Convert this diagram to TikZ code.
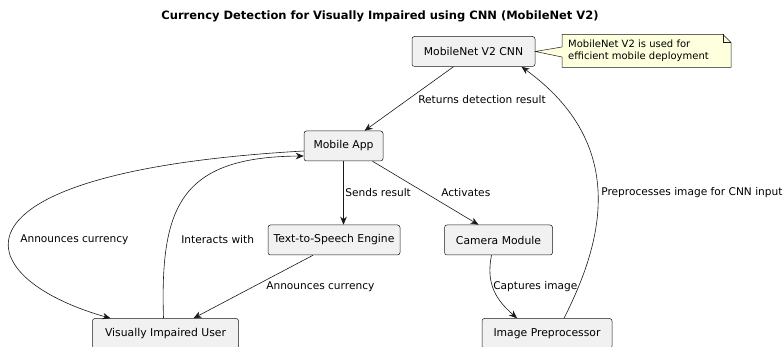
\documentclass[tikz,border=0pt]{standalone}
\usepackage{fontspec}
\setmainfont{DejaVu Sans}
\usetikzlibrary{arrows.meta}
\definecolor{boxfill}{HTML}{F1F1F1}
\definecolor{linec}{HTML}{181818}
\definecolor{notefill}{HTML}{FEFFDD}
\begin{document}
\begin{tikzpicture}[x=1pt,y=1pt,
  box/.style={draw=linec, fill=boxfill, rounded corners=2.5pt, line width=0.5pt, minimum height=30pt, inner sep=0pt, font=\fontsize{10.8}{12}\selectfont},
  conn/.style={draw=linec, line width=0.6pt, -{Stealth[length=8pt,width=6.5pt,inset=2.5pt]}},
  lbl/.style={anchor=west, inner sep=0pt, font=\fontsize{10.6}{12}\selectfont, text=black},
  notetext/.style={anchor=west, inner sep=0pt, align=left, font=\fontsize{10}{12}\selectfont}]
\useasboundingbox (0,0) rectangle (784,347);
\clip (0,0) rectangle (784,347);
\node[font=\bfseries\fontsize{11.5}{13}\selectfont] (title) at (380,331) {Currency Detection for Visually Impaired using CNN (MobileNet V2)};
\node[box, minimum width=123pt] (cnn) at (473.5,295.5) {MobileNet V2 CNN};
\node[box, minimum width=79pt] (app) at (343.5,201) {Mobile App};
\node[box, minimum width=132pt] (tts) at (334,107) {Text-to-Speech Engine};
\node[box, minimum width=108pt] (cam) at (498.5,107) {Camera Module};
\node[box, minimum width=146pt] (user) at (165.5,13.5) {Visually Impaired User};
\node[box, minimum width=130pt] (pre) at (547,13.5) {Image Preprocessor};
% note
\draw[draw=linec, fill=notefill, line width=0.5pt] (562,312.5) -- (723,312.5) -- (731,304.5) -- (731,279.5) -- (562,279.5) -- (562,290) -- (cnn.east) -- (562,300) -- cycle;
\draw[linec, line width=0.5pt] (723,312.5) -- (723,304.5) -- (731,304.5);
\node[notetext] (note) at (568,296) {MobileNet V2 is used for\\efficient mobile deployment};
% connectors
\draw[conn] ([xshift=-20pt]cnn.south) -- ([xshift=21pt]app.north) node[lbl, at={(418,247)}] {Returns detection result};
\draw[conn] (app.south) -- (app.south |- tts.north) node[lbl, at={(345,154)}] {Sends result};
\draw[conn] ([xshift=29pt]app.south) -- ([xshift=-20pt]cam.north) node[lbl, at={(441,154)}] {Activates};
\draw[conn] ([xshift=-7pt]cam.south) .. controls (485.5,62) and (497,46.5) .. ([xshift=-30pt]pre.north) node[lbl, at={(493,60)}] {Captures image};
\draw[conn] ([xshift=17pt]pre.north) .. controls (600,100) and (632,200) .. ([xshift=48pt]cnn.south) node[lbl, at={(601,154)}] {Preprocesses image for CNN input};
\draw[conn] ([xshift=-21pt]tts.south) -- ([xshift=28pt]user.north) node[lbl, at={(266,60)}] {Announces currency};
\draw[conn] ([xshift=-2pt]user.north) .. controls (160,140) and (180,190) .. ([yshift=-10pt]app.west) node[lbl, at={(181,107)}] {Interacts with};
\draw[conn] ([yshift=-5pt]app.west) .. controls (-65,175) and (-35,70) .. ([xshift=-55pt]user.north) node[lbl, at={(20,107)}] {Announces currency};
\end{tikzpicture}
\end{document}
